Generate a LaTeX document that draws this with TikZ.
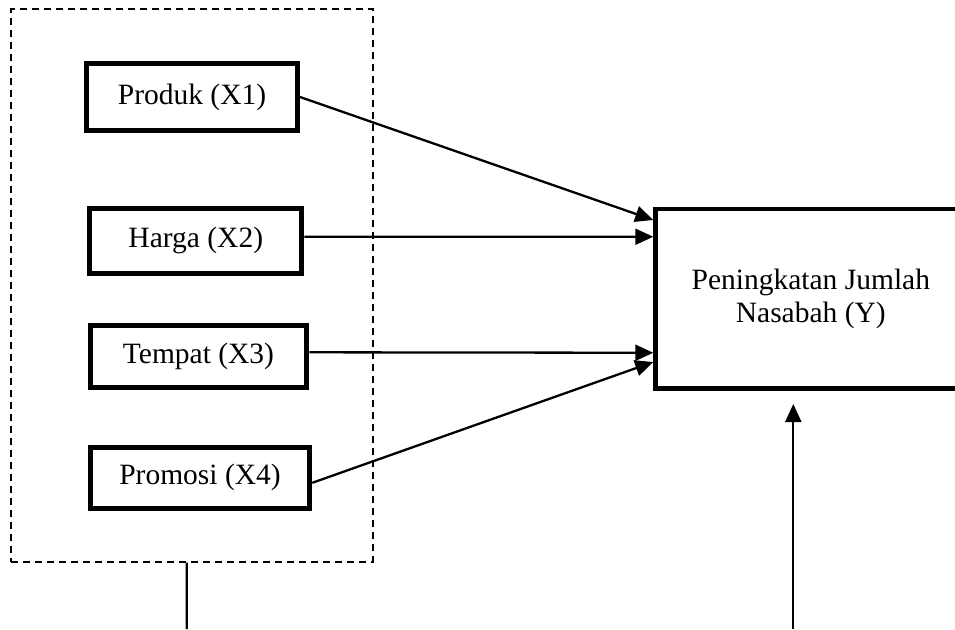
\documentclass[tikz,border=0pt]{standalone}
\usepackage{fontspec}
\setmainfont{Liberation Serif}
\usetikzlibrary{arrows.meta}
\begin{document}
\begin{tikzpicture}[x=1pt,y=-1pt,
  varbox/.style={draw, line width=5pt, fill=white, font=\fontsize{29.5}{33.5}\selectfont, inner sep=0pt},
  ybox/.style={draw, line width=4.5pt, font=\fontsize{29.5}{33.5}\selectfont, align=center, inner sep=0pt},
  grpbox/.style={draw, dashed, dash pattern=on 7pt off 5pt, line width=1.8pt, inner sep=0pt},
  arr/.style={line width=2.3pt, -{Triangle[length=18pt,width=16pt]}},
  plain/.style={line width=2.3pt}]
\useasboundingbox (0,0) rectangle (955,629);
\clip (0,0) rectangle (955,629);
\node[grpbox, minimum width=361.7pt, minimum height=552.4pt] (grp) at (191.85,285.5) {};
\node[varbox, minimum width=211pt, minimum height=67pt] (x1) at (192,97) {Produk (X1)};
\node[varbox, minimum width=212pt, minimum height=65pt] (x2) at (195.8,240.8) {Harga (X2)};
\node[varbox, minimum width=216.6pt, minimum height=62.3pt] (x3) at (198.5,356.3) {Tempat (X3)};
\node[varbox, minimum width=219.6pt, minimum height=60.7pt] (x4) at (200,477.8) {Promosi (X4)};
\node[ybox, minimum width=310.6pt, minimum height=179.5pt] (y) at (810.8,298.75) {Peningkatan Jumlah\\Nasabah (Y)};
\coordinate (gbot) at (186.7,629);
\coordinate (ybot) at (793.3,629);
\coordinate (ytip) at (793.3,404);
\draw[arr] (x1.east) -- ([yshift=78.75pt]y.west);
\draw[arr] ([yshift=4pt]x2.east) -- ([yshift=62pt]y.west);
\draw[arr] ([yshift=4pt]x3.east) -- ([yshift=-54pt]y.west);
\draw[arr] ([yshift=-5pt]x4.east) -- ([yshift=-63.25pt]y.west);
\draw[plain] ([xshift=-5.15pt]grp.south) -- (gbot);
\draw[arr] (ybot) -- (ytip);
\end{tikzpicture}
\end{document}
